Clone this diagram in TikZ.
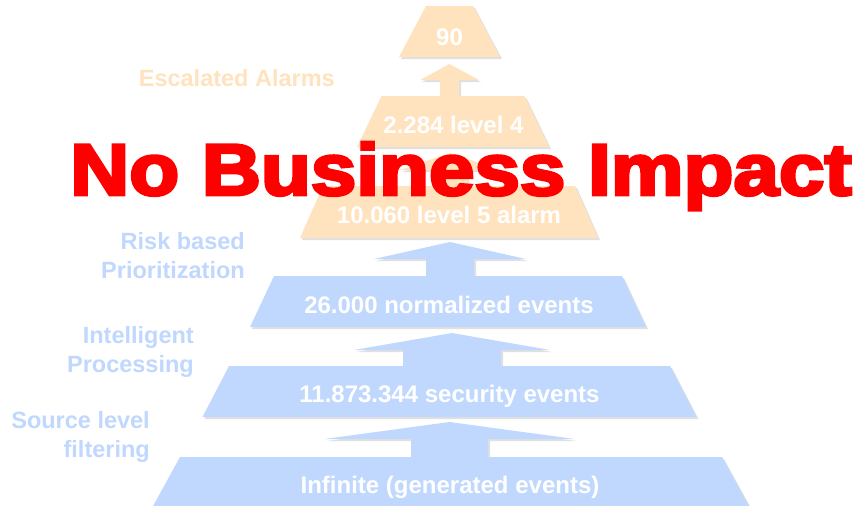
\documentclass[tikz,border=0pt]{standalone}
\usepackage{fontspec}
\setmainfont{Liberation Sans}
\newfontfamily\heavy{Liberation Sans Bold}[FakeBold=4]
\usetikzlibrary{shadows}
\definecolor{peach}{RGB}{255,227,190}
\definecolor{sky}{RGB}{192,216,254}
\definecolor{alarmred}{RGB}{255,0,0}
\tikzset{
  x=1pt, y=-1pt,
  shad/.style={drop shadow={shadow xshift=2pt, shadow yshift=-2pt, opacity=0.12, fill=black}},
  otrap/.style={fill=peach, draw=none, shad},
  btrap/.style={fill=sky, draw=none, shad},
  inner/.style={text=white, font=\bfseries\fontsize{24}{28}\selectfont, inner sep=0pt, anchor=base},
  olab/.style={text=peach, font=\bfseries\fontsize{23.5}{28}\selectfont, inner sep=0pt, anchor=base east},
  blab/.style={text=sky, font=\bfseries\fontsize{23.5}{28}\selectfont, inner sep=0pt, anchor=base east},
}
% trapezoid: center, top y, top half width, bottom y, bottom half width
\newcommand\trapz[6]{\path[#1] (#2-#4,#3) -- (#2+#4,#3) -- (#2+#6,#5) -- (#2-#6,#5) -- cycle;}
% block arrow: center, tip y, head base y, head half width, shaft half width, shaft end y
\newcommand\uparr[7]{\path[#1] (#2,#3) -- (#2+#5,#4) -- (#2+#6,#4) -- (#2+#6,#7) -- (#2-#6,#7) -- (#2-#6,#4) -- (#2-#5,#4) -- cycle;}
\begin{document}
\begin{tikzpicture}
\useasboundingbox (0,0) rectangle (857,506);
\fill[white] (0,0) rectangle (857,506);
% arrows
\uparr{otrap}{449.5}{64}{80}{29.5}{9.5}{97}
\uparr{otrap}{450}{153}{170}{50}{17}{187}
\uparr{btrap}{450}{242}{259}{76}{24}{277}
\uparr{btrap}{452}{333}{350}{98}{49}{367}
\uparr{btrap}{449.5}{422}{439}{125}{38.5}{458}
% trapezoids
\trapz{otrap}{449.5}{6}{23.5}{57}{50.5}
\trapz{otrap}{453}{96}{71.5}{147}{96}
\trapz{otrap}{449}{186}{126}{238}{149}
\trapz{btrap}{448}{276}{174}{327}{198}
\trapz{btrap}{449.5}{366}{220.5}{417}{247}
\trapz{btrap}{451}{457}{271}{508}{299}
% texts in trapezoids
\node[inner] (t90) at (449.5,45) {90};
\node[inner] (t4) at (453.5,133) {2.284 level 4};
\node[inner] (t5) at (449,223) {10.060 level 5 alarm};
\node[inner] (tnorm) at (449,313) {26.000 normalized events};
\node[inner] (tsec) at (449.5,402) {11.873.344 security events};
\node[inner] (tinf) at (450,493) {Infinite (generated events)};
% side labels
\node[olab] (lesc) at (335,86) {Escalated Alarms};
\node[blab] (lrisk1) at (245,249) {Risk based};
\node[blab] (lrisk2) at (245,278) {Prioritization};
\node[blab] (lint1) at (194,343) {Intelligent};
\node[blab] (lint2) at (194,372) {Processing};
\node[blab] (lsrc1) at (150,428) {Source level};
\node[blab] (lsrc2) at (150,457) {filtering};
% overlay
\node[text=alarmred, inner sep=0pt, anchor=base] (nbi) at (461,195)
  {\scalebox{1.12}[1]{\heavy\fontsize{73}{80}\selectfont No Business Impact}};
\end{tikzpicture}
\end{document}
